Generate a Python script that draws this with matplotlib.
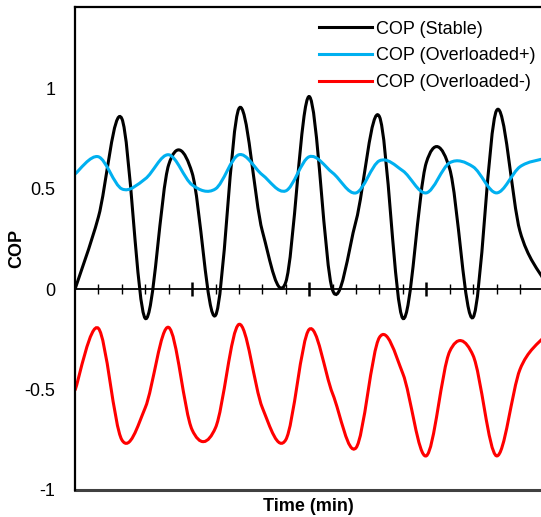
import matplotlib
matplotlib.use("Agg")
import matplotlib.pyplot as plt
from matplotlib.path import Path
from matplotlib.patches import PathPatch

plt.rcParams['font.family'] = ['Liberation Sans', 'DejaVu Sans']

# Data (one sample per minute)
time_min = list(range(21))
cop_stable = [0, 0.36, 0.85, -0.145, 0.62, 0.58, -0.13, 0.90, 0.29, 0.035, 0.96,
              -0.005, 0.34, 0.86, -0.145, 0.63, 0.60, -0.14, 0.89, 0.29, 0.05]
cop_over_pos = [0.574, 0.66, 0.50, 0.55, 0.67, 0.52, 0.50, 0.67, 0.57, 0.49, 0.66,
                0.58, 0.48, 0.64, 0.59, 0.48, 0.63, 0.61, 0.48, 0.61, 0.65]
cop_over_neg = [-0.504, -0.195, -0.75, -0.59, -0.19, -0.70, -0.69, -0.175, -0.59, -0.75, -0.20,
                -0.52, -0.79, -0.24, -0.42, -0.83, -0.31, -0.33, -0.83, -0.40, -0.24]
series_labels = ["COP (Stable)", "COP (Overloaded+)", "COP (Overloaded-)"]
series_colors = ["#000000", "#00B0F0", "#FF0000"]

yticks = [-1, -0.5, 0, 0.5, 1]
ytick_labels = ["-1", "-0.5", "0", "0.5", "1"]


def smooth_path(x, y):
    # Excel-style smoothed line: cubic Bezier through every data point
    n = len(x)
    verts = [(x[0], y[0])]
    codes = [Path.MOVETO]
    for i in range(n - 1):
        a = max(i - 1, 0)
        b = min(i + 2, n - 1)
        c1 = (x[i] + (x[i + 1] - x[a]) / 6, y[i] + (y[i + 1] - y[a]) / 6)
        c2 = (x[i + 1] - (x[b] - x[i]) / 6, y[i + 1] - (y[b] - y[i]) / 6)
        verts += [c1, c2, (x[i + 1], y[i + 1])]
        codes += [Path.CURVE4] * 3
    return Path(verts, codes)


fig = plt.figure(figsize=(5.41, 5.17), dpi=100)
ax = fig.add_axes([75 / 541, 27 / 517, 466 / 541, 483 / 517])

for ys, lab, col in zip([cop_stable, cop_over_pos, cop_over_neg], series_labels, series_colors):
    ax.add_patch(PathPatch(smooth_path(time_min, ys), facecolor='none',
                           edgecolor=col, lw=2.2))
    ax.plot([], [], color=col, lw=2.2, label=lab)

ax.set_xlim(0, 19.9)
ax.set_ylim(-1, 1.406)

# x axis sits at y = 0
ax.spines['bottom'].set_position(('data', 0))
ax.spines['bottom'].set_linewidth(1.3)
ax.spines['right'].set_visible(False)
ax.spines['left'].set_linewidth(1.6)
ax.spines['top'].set_linewidth(1.6)
ax.axhline(-1, color='#404040', lw=2.2, clip_on=False)

ax.set_xticks([5, 10, 15])
ax.set_xticks(range(1, 20), minor=True)
ax.tick_params(axis='x', which='major', direction='inout', length=10, width=1.8, labelbottom=False)
ax.tick_params(axis='x', which='minor', direction='inout', length=6.5, width=1.0)

ax.set_yticks(yticks)
ax.set_yticklabels(ytick_labels)
ax.tick_params(axis='y', length=0, pad=14, labelsize=13)

ax.set_ylabel("COP", fontsize=13, fontweight='bold')
ax.yaxis.set_label_coords(-0.107, 0.5)
ax.set_xlabel("Time (min)", fontsize=13, fontweight='bold')
ax.xaxis.set_label_coords(0.5, -0.016)

ax.legend(loc='upper left', bbox_to_anchor=(0.524, 0.972), frameon=False, fontsize=13,
          handlelength=2.9, handletextpad=0.25, labelspacing=0.55, borderpad=0,
          borderaxespad=0)

fig.savefig("out.png", dpi=100)
